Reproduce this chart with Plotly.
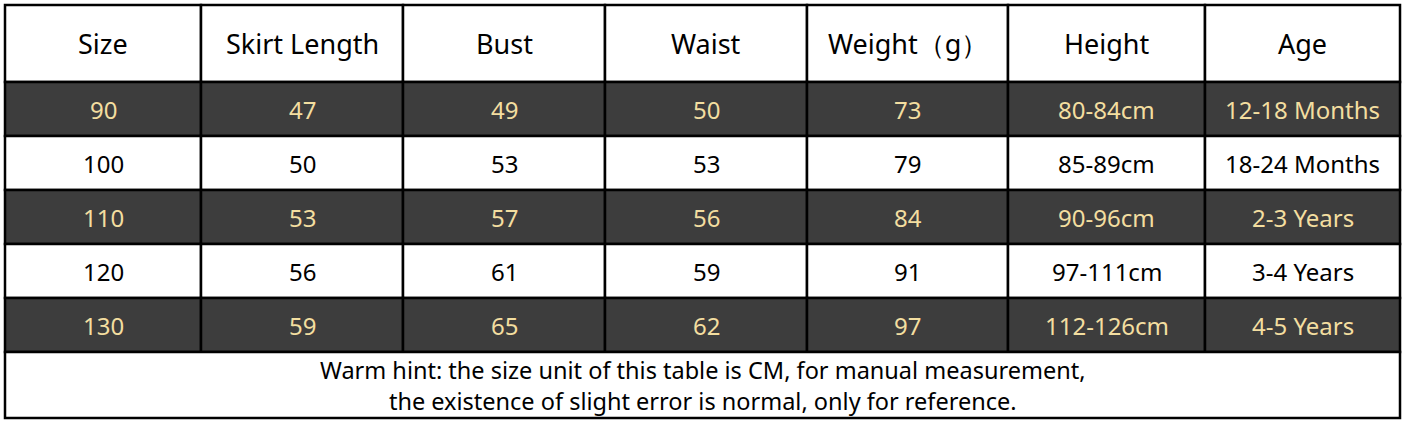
import plotly.graph_objects as go

headers = ["Size", "Skirt Length", "Bust", "Waist", "Weight（g）", "Height", "Age"]
size = ["90", "100", "110", "120", "130"]
skirt_length = ["47", "50", "53", "56", "59"]
bust = ["49", "53", "57", "61", "65"]
waist = ["50", "53", "56", "59", "62"]
weight = ["73", "79", "84", "91", "97"]
height = ["80-84cm", "85-89cm", "90-96cm", "97-111cm", "112-126cm"]
age = ["12-18 Months", "18-24 Months", "2-3 Years", "3-4 Years", "4-5 Years"]
note = ["Warm hint: the size unit of this table is CM, for manual measurement,",
        "the existence of slight error is normal, only for reference."]

columns = [size, skirt_length, bust, waist, weight, height, age]

# layout of the grid (pixels)
col_widths = [196, 202, 202, 202, 201, 197, 195]
header_h = 77
row_h = 54
note_h = 66
pad = 3  # room so the outer border is not clipped

dark = "#3d3d3d"
gold = "#f3dea0"
font_family = "Noto Sans"

n_rows = len(size)
total_w = sum(col_widths)
total_h = header_h + n_rows * row_h + note_h

col_edges = [0]
for w in col_widths:
    col_edges.append(col_edges[-1] + w)

shapes = []
annotations = []


def add_cell(x0, x1, y0, y1, fill, text, color, fsize):
    shapes.append(dict(type="rect", xref="x", yref="y", x0=x0, x1=x1, y0=y0, y1=y1,
                       fillcolor=fill, line=dict(color="black", width=2.5), layer="below"))
    annotations.append(dict(x=(x0 + x1) / 2, y=(y0 + y1) / 2, xref="x", yref="y",
                            text=text, showarrow=False, xanchor="center", yanchor="middle",
                            font=dict(family=font_family, size=fsize, color=color)))


# header
for j, h in enumerate(headers):
    add_cell(col_edges[j], col_edges[j + 1], 0, header_h, "white", h, "black", 27)

# body rows
for i in range(n_rows):
    y0 = header_h + i * row_h
    fill = dark if i % 2 == 0 else "white"
    color = gold if i % 2 == 0 else "black"
    for j, col in enumerate(columns):
        add_cell(col_edges[j], col_edges[j + 1], y0, y0 + row_h, fill, col[i], color, 24)

# note row
y0 = header_h + n_rows * row_h
add_cell(0, total_w, y0, y0 + note_h, "white", "<br>".join(note), "black", 23.5)

fig = go.Figure()
fig.add_trace(go.Scatter(x=[0, total_w], y=[0, total_h], mode="markers",
                         marker=dict(opacity=0), hoverinfo="skip", showlegend=False))

fig.update_layout(
    width=1406,
    height=424,
    margin=dict(l=0, r=0, t=0, b=0),
    paper_bgcolor="white",
    plot_bgcolor="white",
    shapes=shapes,
    annotations=annotations,
    xaxis=dict(range=[-pad, total_w + pad], domain=[(5 - pad) / 1406, (1400 + pad) / 1406],
               visible=False, fixedrange=True),
    yaxis=dict(range=[total_h + pad, -pad], domain=[1 - (418 + pad) / 424, 1 - (5 - pad) / 424],
               visible=False, fixedrange=True),
)

fig.write_html("out.html", config={"displayModeBar": False},
               post_script="document.body.style.margin='0px';")
